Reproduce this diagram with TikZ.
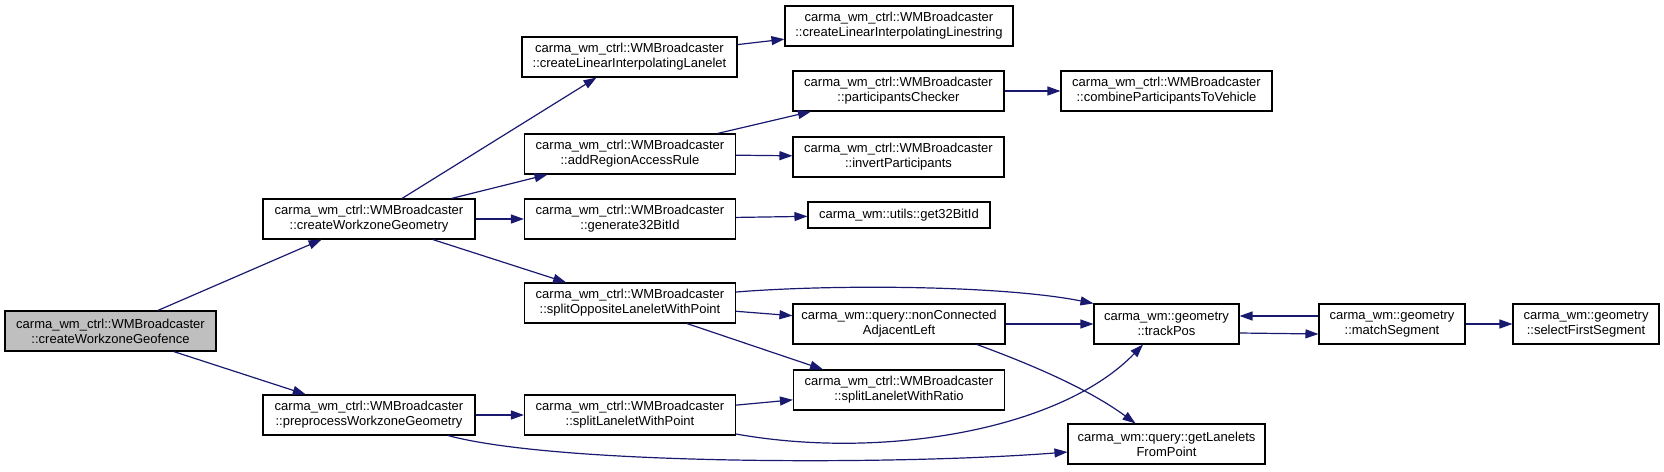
\documentclass[tikz,border=0pt]{standalone}
\usepackage{fontspec}
\setmainfont{Liberation Sans}
\usetikzlibrary{arrows.meta}
\definecolor{edgeblue}{HTML}{191970}
\definecolor{hilite}{HTML}{BFBFBF}
\tikzset{
  fn/.style={draw=black, line width=1.1pt, fill=white, inner sep=0pt, minimum height=40pt,
    align=center, font=\fontsize{13}{15}\selectfont, text=black},
  call/.style={draw=edgeblue, line width=1.2pt, -{Triangle[length=13pt,width=9pt]}, edgeblue}
}
\begin{document}
\begin{tikzpicture}[x=1pt,y=-1pt]
\useasboundingbox (0,0) rectangle (1664,471);
% nodes
\node[fn, fill=hilite, minimum width=211pt] (geo) at (110.5,331) {carma\_wm\_ctrl::WMBroadcaster\\::createWorkzoneGeofence};
\node[fn, minimum width=212pt] (cwg) at (369,219) {carma\_wm\_ctrl::WMBroadcaster\\::createWorkzoneGeometry};
\node[fn, minimum width=212pt] (prep) at (369,415) {carma\_wm\_ctrl::WMBroadcaster\\::preprocessWorkzoneGeometry};
\node[fn, minimum width=215pt] (clil) at (629.5,57) {carma\_wm\_ctrl::WMBroadcaster\\::createLinearInterpolatingLanelet};
\node[fn, minimum width=211pt] (arar) at (630,154) {carma\_wm\_ctrl::WMBroadcaster\\::addRegionAccessRule};
\node[fn, minimum width=211pt] (g32) at (630,219) {carma\_wm\_ctrl::WMBroadcaster\\::generate32BitId};
\node[fn, minimum width=211pt] (sol) at (630,303) {carma\_wm\_ctrl::WMBroadcaster\\::splitOppositeLaneletWithPoint};
\node[fn, minimum width=211pt] (slwp) at (630,415) {carma\_wm\_ctrl::WMBroadcaster\\::splitLaneletWithPoint};
\node[fn, minimum width=228pt] (clils) at (899,26) {carma\_wm\_ctrl::WMBroadcaster\\::createLinearInterpolatingLinestring};
\node[fn, minimum width=211pt] (pc) at (898.5,91) {carma\_wm\_ctrl::WMBroadcaster\\::participantsChecker};
\node[fn, minimum width=211pt] (inv) at (898.5,157) {carma\_wm\_ctrl::WMBroadcaster\\::invertParticipants};
\node[fn, minimum width=182pt, minimum height=26pt] (get32) at (899,215) {carma\_wm::utils::get32BitId};
\node[fn, minimum width=212pt] (ncal) at (899,324) {carma\_wm::query::nonConnected\\AdjacentLeft};
\node[fn, minimum width=211pt] (slwr) at (899,390) {carma\_wm\_ctrl::WMBroadcaster\\::splitLaneletWithRatio};
\node[fn, minimum width=211pt] (cptv) at (1166.5,91) {carma\_wm\_ctrl::WMBroadcaster\\::combineParticipantsToVehicle};
\node[fn, minimum width=145pt] (track) at (1166.5,324) {carma\_wm::geometry\\::trackPos};
\node[fn, minimum width=197pt] (glfp) at (1166.5,444) {carma\_wm::query::getLanelets\\FromPoint};
\node[fn, minimum width=146pt] (match) at (1392,324) {carma\_wm::geometry\\::matchSegment};
\node[fn, minimum width=146pt] (select) at (1586,324) {carma\_wm::geometry\\::selectFirstSegment};
% edges
\draw[call] (geo) -- (cwg);
\draw[call] (geo) -- (prep);
\draw[call] (cwg) -- (clil);
\draw[call] (cwg) -- (arar);
\draw[call] (cwg) -- (g32);
\draw[call] (cwg) -- (sol);
\draw[call] (prep) -- (slwp);
\draw[call] ([xshift=79pt]prep.south) .. controls +(112,30) and +(-168,13) .. ([yshift=-8pt]glfp.west);
\draw[call] (clil) -- (clils);
\draw[call] (arar) -- (pc);
\draw[call] (arar) -- (inv);
\draw[call] (pc) -- (cptv);
\draw[call] (g32) -- (get32);
\draw[call] ([yshift=11pt]sol.east) .. controls +(100,-8) and +(-90,-18) .. (track.north west);
\draw[call] (sol) -- (ncal);
\draw[call] ([xshift=57pt]sol.south) -- ([xshift=-76pt]slwr.north);
\draw[call] (slwp) -- (slwr);
\draw[call] ([yshift=-19pt]slwp.east) .. controls +(145,26) and +(-83,86) .. ([xshift=-23.5pt]track.south);
\draw[call] (ncal) -- (track);
\draw[call] ([xshift=78pt]ncal.south) .. controls +(60,22) and +(-45,-33) .. ([xshift=-31pt]glfp.north);
\draw[call] ([yshift=-9pt]track.east) -- ([yshift=-10pt]match.west);
\draw[call] ([yshift=8pt]match.west) -- ([yshift=8pt]track.east);
\draw[call] (match) -- (select);
\end{tikzpicture}
\end{document}
